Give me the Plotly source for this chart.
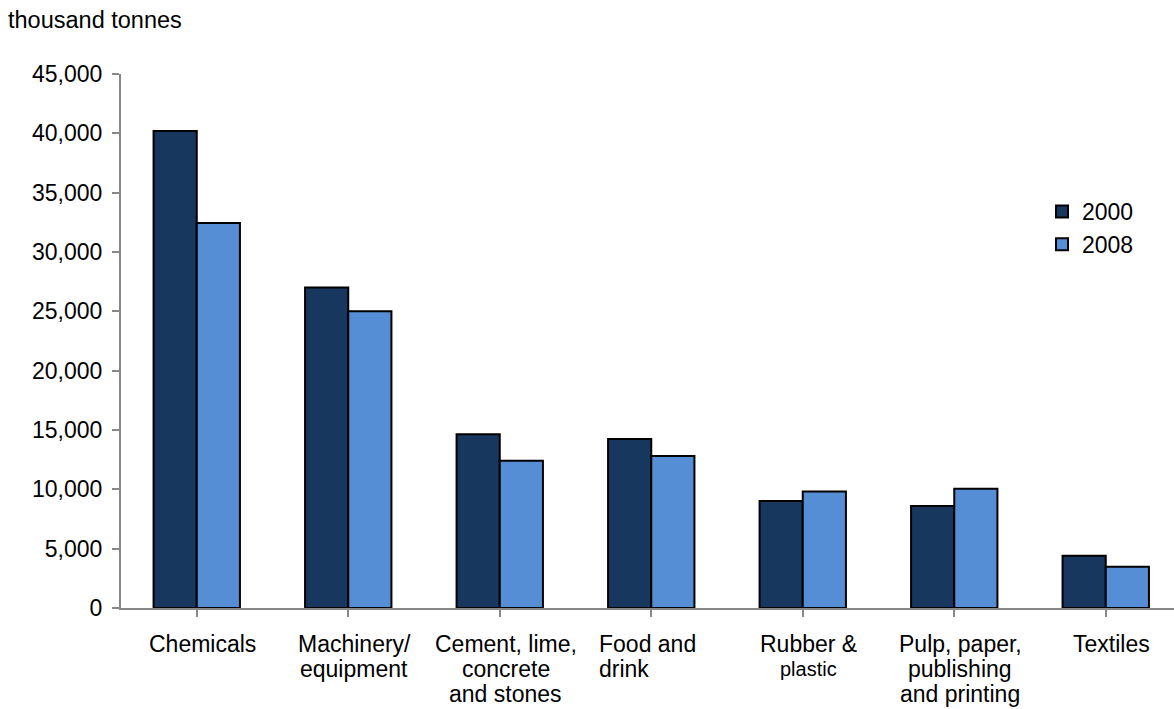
import plotly.graph_objects as go

categories = ["Chemicals", "Machinery/equipment", "Cement, lime, concrete and stones",
              "Food and drink", "Rubber & plastic", "Pulp, paper, publishing and printing", "Textiles"]
label_lines = [["Chemicals"], ["Machinery/", "equipment"], ["Cement, lime,", "concrete", "and stones"],
               ["Food and", "drink"], ["Rubber &", "plastic"], ["Pulp, paper,", "publishing", "and printing"],
               ["Textiles"]]
values_2000 = [40200, 27000, 14650, 14250, 9020, 8600, 4410]
values_2008 = [32450, 25000, 12400, 12800, 9820, 10050, 3480]
y_ticks = [0, 5000, 10000, 15000, 20000, 25000, 30000, 35000, 40000, 45000]

FONT = "Liberation Sans, Arial, sans-serif"
DARK = "#17375E"
LIGHT = "#558ED5"

x = list(range(len(categories)))
fig = go.Figure()
fig.add_trace(go.Bar(x=x, y=values_2000, name="2000", marker=dict(color=DARK, line=dict(color="black", width=2))))
fig.add_trace(go.Bar(x=x, y=values_2008, name="2008", marker=dict(color=LIGHT, line=dict(color="black", width=2))))

W, H = 1174, 709
L, R, T, B = 121, 0, 74, 101
pw = W - L - R
ph = H - T - B
cat_px = 151.5

annotations = []
line_h = 25
for i, lines in enumerate(label_lines):
    left_align = (i == 3)
    for j, ln in enumerate(lines):
        size = 23
        if i == 4 and j == 1:
            size = 20
        ann = dict(x=i, xref="x", y=0, yref="paper", text=ln, showarrow=False,
                   yanchor="middle", yshift=-(36 + j * line_h),
                   font=dict(family=FONT, size=size, color="black"))
        if left_align:
            ann.update(xanchor="left", xshift=-54)
        else:
            ann.update(xanchor="center", xshift=6)
        annotations.append(ann)

annotations.append(dict(x=(6 - L) / pw, xref="paper", y=1 + (T - 20) / ph, yref="paper",
                        text="thousand tonnes", showarrow=False, xanchor="left", yanchor="middle",
                        font=dict(family=FONT, size=23.5, color="black")))

fig.update_layout(
    width=W, height=H,
    margin=dict(l=L, r=R, t=T, b=B, pad=0),
    paper_bgcolor="white", plot_bgcolor="white",
    barmode="group", bargap=0.43, bargroupgap=0,
    font=dict(family=FONT, size=23, color="black"),
    showlegend=True,
    legend=dict(x=(1042 - L) / pw, y=1 - (190 - T) / ph, xanchor="left", yanchor="top",
                font=dict(family=FONT, size=23, color="black"), bgcolor="rgba(0,0,0,0)",
                tracegroupgap=0),
    annotations=annotations,
    xaxis=dict(range=[-0.5, -0.5 + pw / cat_px], tickmode="array", tickvals=x,
               ticktext=[""] * len(x), tickson="boundaries", ticks="outside", ticklen=7,
               tickwidth=2, tickcolor="#888888", showline=True, linecolor="#888888", linewidth=2,
               showgrid=False, zeroline=False, fixedrange=True),
    yaxis=dict(range=[0, 45000], tickmode="array", tickvals=y_ticks,
               ticktext=[f"{v:,}" for v in y_ticks], ticks="outside", ticklen=7, tickwidth=2,
               tickcolor="#888888", showline=True, linecolor="#888888", linewidth=2,
               showgrid=False, zeroline=False, ticklabelstandoff=5,
               tickfont=dict(family=FONT, size=23, color="black")),
)

fig.write_html("out.html")
